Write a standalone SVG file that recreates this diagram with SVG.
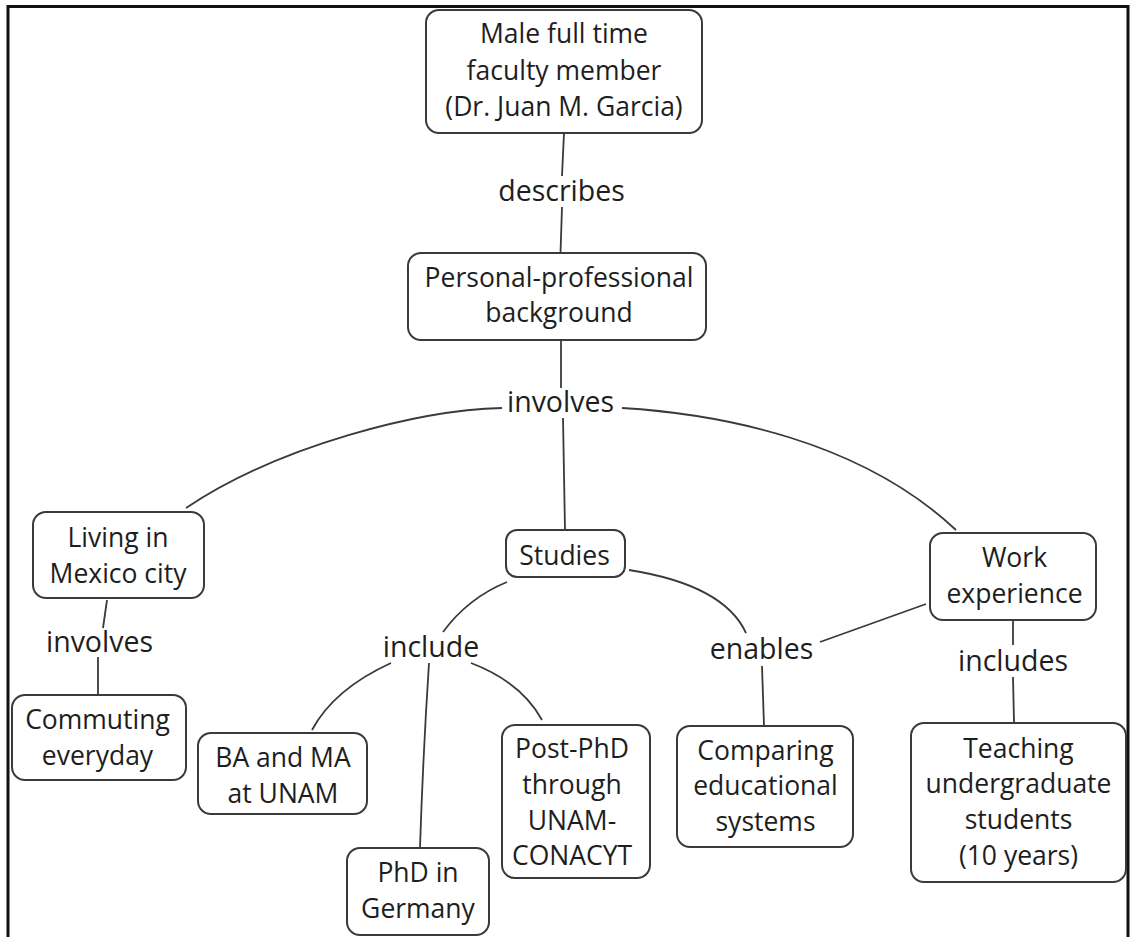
<svg xmlns="http://www.w3.org/2000/svg" width="1131" height="937" viewBox="0 0 1131 937">
  <style>
    .box { fill: #ffffff; stroke: #3a3a3a; stroke-width: 2; }
    .node text { font-family: "Open Sans", "Liberation Sans", sans-serif; font-size: 26.5px; fill: #1e1e1e; text-anchor: middle; }
    .link { fill: none; stroke: #3a3a3a; stroke-width: 1.8; }
    .lbl { font-family: "Open Sans", "Liberation Sans", sans-serif; font-size: 28.5px; fill: #1e1e1e; text-anchor: middle; }
  </style>
  <rect width="1131" height="937" fill="#ffffff"/>
  <!-- outer frame, open at the bottom -->
  <path d="M8,940 V6.5 H1128 V940" fill="none" stroke="#111111" stroke-width="3"/>

  <g id="connectors">
    <line class="link" x1="564" y1="133" x2="562" y2="176"/>
    <line class="link" x1="562" y1="207" x2="560.5" y2="253"/>
    <line class="link" x1="561" y1="340" x2="561" y2="388"/>
    <line class="link" x1="563" y1="418" x2="565" y2="530"/>
    <path class="link" d="M502,408 C420,410 280,445 186,508"/>
    <path class="link" d="M622,408 C720,414 860,440 956,530"/>
    <line class="link" x1="107" y1="600" x2="103" y2="628"/>
    <line class="link" x1="98" y1="657" x2="98" y2="695"/>
    <path class="link" d="M507,582 Q468,598 443,632"/>
    <path class="link" d="M391,663 Q334,689 312,730"/>
    <path class="link" d="M429,663 Q423,755 420,848"/>
    <path class="link" d="M471,663 Q521,682 542,720"/>
    <path class="link" d="M629,570 Q724,585 746,633"/>
    <line class="link" x1="820" y1="642" x2="926" y2="604"/>
    <line class="link" x1="762" y1="666" x2="764" y2="726"/>
    <line class="link" x1="1013" y1="620" x2="1013" y2="645"/>
    <line class="link" x1="1013" y1="677" x2="1014" y2="723"/>
    <text class="lbl" x="561.5" y="201">describes</text>
    <text class="lbl" x="560.5" y="412">involves</text>
    <text class="lbl" x="99.5" y="652">involves</text>
    <text class="lbl" x="431" y="657">include</text>
    <text class="lbl" x="761.5" y="659">enables</text>
    <text class="lbl" x="1013" y="671">includes</text>
  </g>

  <g id="faculty" class="node">
    <rect class="box" x="426" y="10" width="276" height="123" rx="13"/>
    <text x="564" y="43">Male full time</text>
    <text x="564" y="80">faculty member</text>
    <text x="564" y="116">(Dr. Juan M. Garcia)</text>
  </g>
  <g id="background" class="node">
    <rect class="box" x="408" y="253" width="298" height="87" rx="13"/>
    <text x="559" y="287">Personal-professional</text>
    <text x="559" y="322">background</text>
  </g>
  <g id="living" class="node">
    <rect class="box" x="33" y="512" width="171" height="86" rx="13"/>
    <text x="118" y="547">Living in</text>
    <text x="118" y="583">Mexico city</text>
  </g>
  <g id="studies" class="node">
    <rect class="box" x="506" y="530" width="119" height="47" rx="11"/>
    <text x="564.5" y="565">Studies</text>
  </g>
  <g id="work" class="node">
    <rect class="box" x="930" y="533" width="166" height="87" rx="13"/>
    <text x="1014.5" y="567">Work</text>
    <text x="1014.5" y="603">experience</text>
  </g>
  <g id="commuting" class="node">
    <rect class="box" x="12" y="695" width="174" height="85" rx="13"/>
    <text x="97.5" y="729">Commuting</text>
    <text x="97.5" y="765">everyday</text>
  </g>
  <g id="ba-ma" class="node">
    <rect class="box" x="198" y="733" width="169" height="81" rx="13"/>
    <text x="283" y="767">BA and MA</text>
    <text x="283" y="803">at UNAM</text>
  </g>
  <g id="phd" class="node">
    <rect class="box" x="347" y="848" width="142" height="87" rx="13"/>
    <text x="418" y="882">PhD in</text>
    <text x="418" y="918">Germany</text>
  </g>
  <g id="post-phd" class="node">
    <rect class="box" x="502" y="725" width="148" height="153" rx="13"/>
    <text x="572" y="758">Post-PhD</text>
    <text x="572" y="794">through</text>
    <text x="572" y="830">UNAM-</text>
    <text x="572" y="865">CONACYT</text>
  </g>
  <g id="comparing" class="node">
    <rect class="box" x="677" y="726" width="176" height="121" rx="13"/>
    <text x="765.5" y="760">Comparing</text>
    <text x="765.5" y="795">educational</text>
    <text x="765.5" y="831">systems</text>
  </g>
  <g id="teaching" class="node">
    <rect class="box" x="911" y="723" width="215" height="159" rx="13"/>
    <text x="1018.5" y="758">Teaching</text>
    <text x="1018.5" y="793">undergraduate</text>
    <text x="1018.5" y="829">students</text>
    <text x="1018.5" y="865">(10 years)</text>
  </g>
</svg>
